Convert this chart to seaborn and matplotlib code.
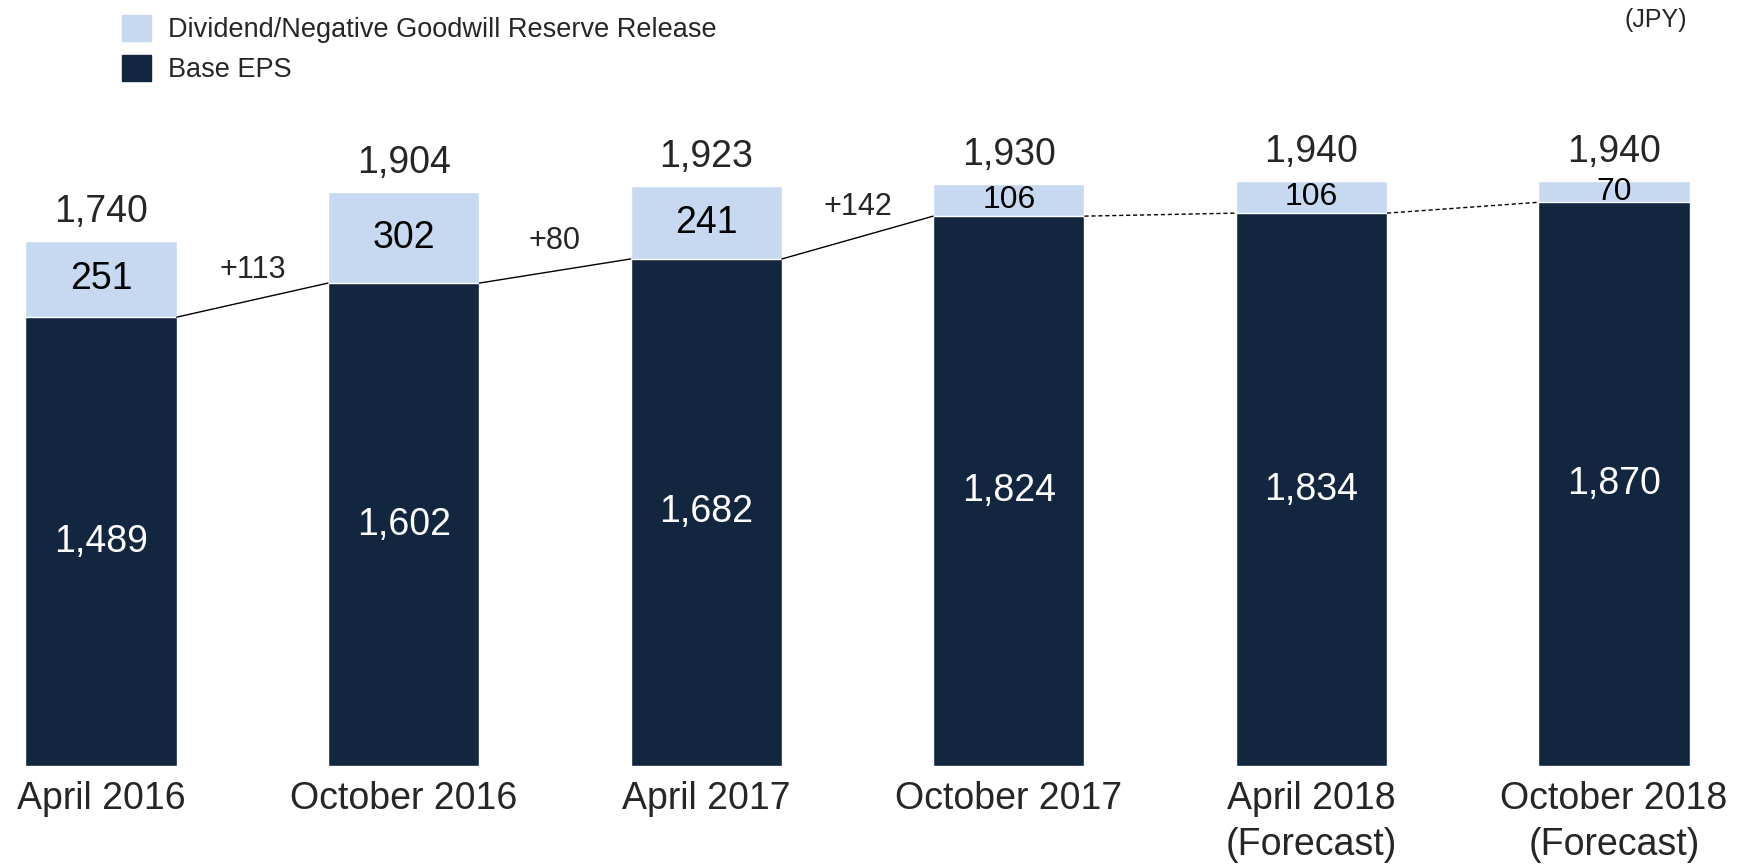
import matplotlib as mpl, numpy as np, pandas as pd
import matplotlib.pyplot as plt
from matplotlib.patches import Patch
import seaborn as sns

sns.set_style('white')
plt.rcParams['font.family'] = ['Liberation Sans', 'DejaVu Sans']

# Data
categories = ['April 2016', 'October 2016', 'April 2017', 'October 2017',
              'April 2018\n(Forecast)', 'October 2018\n(Forecast)']
base_eps = [1489, 1602, 1682, 1824, 1834, 1870]
reserve = [251, 302, 241, 106, 106, 70]
connector_styles = ['-', '-', '-', '--', '--']
show_change = [True, True, True, False, False]

light = '#C6D9F1'
dark = '#12263F'

totals = [b + r for b, r in zip(base_eps, reserve)]
df = pd.DataFrame({'period': categories, 'base': base_eps, 'reserve': reserve, 'total': totals})

fig = plt.figure(figsize=(17.38, 8.64), dpi=100)
ax = fig.add_axes([0, 0.1134, 1, 0.8866])

# stacked bars: total in light, base drawn over it in dark
sns.barplot(data=df, x='period', y='total', color=light, width=0.5, saturation=1,
            errorbar=None, ax=ax)
sns.barplot(data=df, x='period', y='base', color=dark, width=0.5, saturation=1,
            errorbar=None, ax=ax)

ax.set_xlim(-0.334, 5.41)
ax.set_ylim(0, 2541)
sns.despine(ax=ax, left=True, bottom=True)
ax.set_yticks([])
ax.set_xlabel('')
ax.set_ylabel('')
ax.tick_params(axis='x', length=0, pad=11, labelsize=27)
plt.setp(ax.get_xticklabels(), linespacing=1.35)

hw = 0.25
for i, row in df.iterrows():
    # base label (white, centered)
    ax.text(i, row['base'] / 2, f"{row['base']:,}", ha='center', va='center',
            color='white', fontsize=27)
    # reserve label
    fs = 27 if row['reserve'] > 200 else 23
    ax.text(i, row['base'] + row['reserve'] / 2, f"{row['reserve']:,}", ha='center',
            va='center', color='black', fontsize=fs)
    # total above bar
    ax.annotate(f"{row['total']:,}", (i, row['total']), xytext=(0, 8),
                textcoords='offset points', ha='center', va='bottom', fontsize=27)

# connectors between base tops
for i, ls in enumerate(connector_styles):
    ax.plot([i + hw, i + 1 - hw], [base_eps[i], base_eps[i + 1]], color='black',
            lw=1.0, ls=ls, dashes=(3, 2) if ls == '--' else (None, None))
    if show_change[i]:
        diff = base_eps[i + 1] - base_eps[i]
        ax.text(i + 0.5, (base_eps[i] + base_eps[i + 1]) / 2 + 100, f"+{diff}",
                ha='center', va='center', fontsize=22)

handles = [Patch(color=light), Patch(color=dark)]
fig.legend(handles, ['Dividend/Negative Goodwill Reserve Release', 'Base EPS'],
           loc='upper left', bbox_to_anchor=(0.0702, 0.9826), frameon=False,
           fontsize=19.5, borderpad=0, borderaxespad=0, handlelength=1.06,
           handleheight=1.12, handletextpad=0.65, labelspacing=0.42)

fig.text(0.9525, 0.977, '(JPY)', ha='center', va='center', fontsize=18)

fig.savefig('out.png', dpi=100)
